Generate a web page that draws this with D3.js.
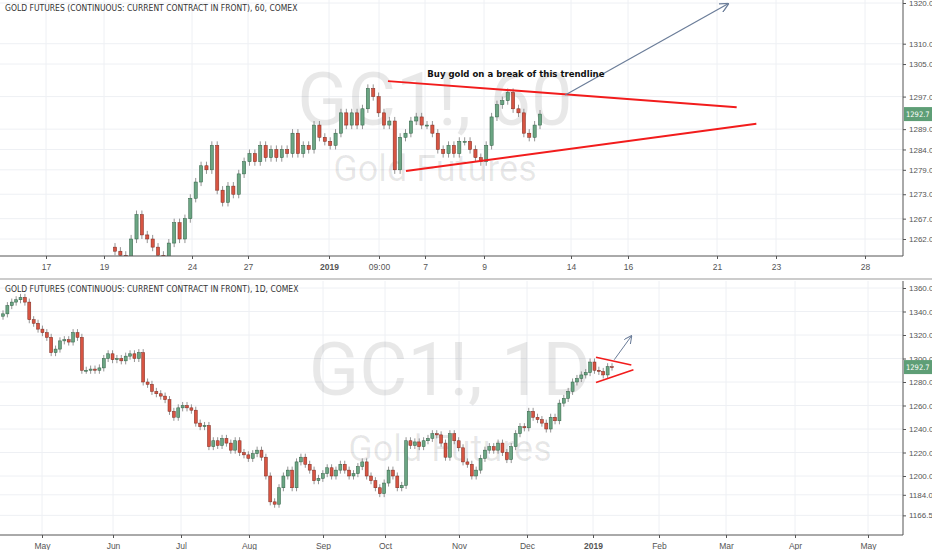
<!DOCTYPE html>
<html><head><meta charset="utf-8">
<script src="https://cdn.jsdelivr.net/npm/d3@7"></script>
<style>body{margin:0;background:#fff}svg{display:block;font-family:"Liberation Sans Narrow","DejaVu Sans Condensed",Arial,sans-serif}</style>
</head><body><svg id="c" width="932" height="550"></svg>
<script>
// ---------- data ----------
const topCloses=[1259,1258,1257,1262,1268,1263,1262,1260,1258,1257,1261,1266,1262,1267,1272,1276,1280,1279,1285,1274,1271,1275,1273,1278,1281,1283,1281,1285,1282,1284,1282,1284,1283,1288,1283,1285,1284,1290,1287,1286,1285,1288,1293,1290,1293,1290,1294,1299,1297,1293,1290,1291,1279,1287,1288,1291,1292,1290,1290,1288,1284,1283,1285,1283,1286,1286,1284,1282,1281,1285,1292,1295,1296,1298,1294,1293,1288,1287,1290,1292.7];
const topOpen0=1260;
const botCloses=[1338,1345,1348,1350,1352,1348,1333,1330,1325,1322,1318,1305,1308,1315,1316,1314,1322,1318,1290,1290,1291,1290,1292,1300,1304,1299,1300,1298,1302,1304,1300,1305,1280,1278,1272,1270,1268,1265,1255,1250,1258,1260,1258,1256,1245,1242,1243,1225,1230,1226,1232,1228,1222,1230,1220,1218,1215,1219,1222,1216,1200,1178,1176,1190,1200,1205,1190,1212,1216,1210,1205,1196,1198,1202,1207,1200,1205,1210,1205,1200,1202,1208,1212,1200,1196,1190,1185,1194,1205,1200,1190,1192,1230,1226,1229,1225,1230,1232,1236,1235,1228,1216,1236,1230,1224,1212,1210,1200,1205,1215,1222,1225,1222,1228,1220,1214,1225,1236,1242,1241,1255,1250,1248,1245,1240,1250,1247,1262,1266,1272,1280,1283,1286,1288,1297,1290,1289,1286,1293,1292.7];
const botOpen0=1336;
const topTicks=[1320,1310,1305,1297,1289,1284,1279,1273,1267,1262];
const botTicks=[1360,1340,1320,1300,1280,1260,1240,1220,1200,1184,1166.5];
const topXLabels=["17","19","24","27","2019","09:00","7","9","14","16","21","23","28"];
const topXDates=["2018-12-17","2018-12-19","2018-12-24","2018-12-27","2019-01-01","2019-01-03T09:00","2019-01-07","2019-01-09","2019-01-14","2019-01-16","2019-01-21","2019-01-23","2019-01-28"];
const botXLabels=["May","Jun","Jul","Aug","Sep","Oct","Nov","Dec","2019","Feb","Mar","Apr","May"];
const botXDates=["2018-05-01","2018-06-01","2018-07-01","2018-08-01","2018-09-01","2018-10-01","2018-11-01","2018-12-01","2019-01-01","2019-02-01","2019-03-01","2019-04-01","2019-05-01"];
const lastPrice=1292.7;
const title="GOLD FUTURES (CONTINUOUS: CURRENT CONTRACT IN FRONT)";

// ---------- helpers ----------
const svg=d3.select("#c");
const UP="#6ba583",DN="#d75442";
function panel(o){
  const g=svg.append("g");
  const y=d3.scaleLinear().domain(o.ydom).range([o.y0,o.y1]);
  const xt=d3.scaleTime().domain(o.xDates.map(d=>new Date(d))).range(o.xPix);
  const xi=d3.scaleLinear().domain([0,o.closes.length-1]).range(o.candleRange);
  const cp="clip"+o.id;
  svg.append("clipPath").attr("id",cp).append("rect").attr("x",0).attr("y",o.top).attr("width",o.right).attr("height",o.bottom-o.top);
  g.selectAll(".vg").data(o.xDates).join("line").attr("x1",d=>xt(new Date(d))).attr("x2",d=>xt(new Date(d)))
    .attr("y1",o.top).attr("y2",o.bottom).attr("stroke","#eef0f4");
  g.selectAll(".hg").data(o.ticks).join("line").attr("x1",0).attr("x2",o.right).attr("y1",d=>y(d)).attr("y2",d=>y(d)).attr("stroke","#eef0f4");
  g.append("text").attr("x",o.wmx).attr("y",o.wmy).attr("text-anchor","middle").attr("font-size",74).attr("fill","#000").attr("fill-opacity",0.09).attr("font-family","Roboto,Arial").text(o.wm);
  g.append("text").attr("x",o.wmx).attr("y",o.wmy+o.wm2).attr("text-anchor","middle").attr("font-size",36).attr("fill","#000").attr("fill-opacity",0.09).attr("font-family","Roboto,Arial").text("Gold Futures");
  const data=o.closes.map((c,i)=>{const op=i?o.closes[i-1]:o.open0;return{i,o:op,c,h:Math.max(op,c)+o.wick,l:Math.min(op,c)-o.wick};});
  const cg=g.append("g").attr("clip-path",`url(#${cp})`);
  cg.selectAll(".w").data(data).join("line").attr("x1",d=>xi(d.i)).attr("x2",d=>xi(d.i)).attr("y1",d=>y(d.h)).attr("y2",d=>y(d.l)).attr("stroke","#7a7a7a").attr("stroke-width",0.8);
  cg.selectAll(".b").data(data).join("rect").attr("x",d=>xi(d.i)-o.bw/2).attr("width",o.bw)
    .attr("y",d=>y(Math.max(d.o,d.c))).attr("height",d=>Math.max(1,Math.abs(y(d.o)-y(d.c))))
    .attr("fill",d=>d.c>=d.o?UP:DN).attr("stroke",d=>d.c>=d.o?"#2f5f43":"#7a2a20").attr("stroke-width",0.5);
  o.annot(g,xt,y);
  g.append("line").attr("x1",o.right).attr("x2",o.right).attr("y1",o.top).attr("y2",o.bottom).attr("stroke","#555");
  g.append("line").attr("x1",0).attr("x2",o.right).attr("y1",o.bottom).attr("y2",o.bottom).attr("stroke","#555");
  const ya=d3.axisRight(y).tickValues(o.ticks).tickFormat(d3.format(".1f")).tickSize(3);
  const ay=g.append("g").attr("transform",`translate(${o.right},0)`).call(ya);
  ay.select(".domain").remove();
  ay.selectAll("text").attr("font-size",8).attr("fill","#555");ay.selectAll("line").attr("stroke","#555");
  const xa=d3.axisBottom(xt).tickValues(o.xDates.map(d=>new Date(d))).tickFormat((d,i)=>o.xLabels[i]).tickSize(3);
  const ax=g.append("g").attr("transform",`translate(0,${o.bottom})`).call(xa);
  ax.select(".domain").remove();
  ax.selectAll("text").attr("font-size",8.5).attr("fill","#555").attr("dy","0.9em").attr("font-weight",(d,i)=>o.xLabels[i]==="2019"?"bold":"normal");
  ax.selectAll("line").attr("stroke","#555");
  g.append("rect").attr("x",o.right+1).attr("y",y(lastPrice)-7).attr("width",29).attr("height",14).attr("fill","#5e9e76");
  g.append("text").attr("x",o.right+3).attr("y",y(lastPrice)+3).attr("font-size",7.5).attr("fill","#fff").text(d3.format(".1f")(lastPrice));
  g.append("text").attr("x",5).attr("y",o.top+11).attr("font-size",8.5).attr("fill","#333").text(title+o.tsuf);
}
const arrowDefs=svg.append("defs");
arrowDefs.append("marker").attr("id","ah").attr("viewBox","0 0 10 10").attr("refX",9).attr("refY",5).attr("markerWidth",8).attr("markerHeight",8).attr("orient","auto")
  .append("path").attr("d","M0,0 L10,5 L0,10").attr("fill","none").attr("stroke","#6b7d99").attr("stroke-width",1.3);
function seg(g,x,y,a,b,col,w,arrow){const l=g.append("line").attr("x1",x(new Date(a[0]))).attr("y1",y(a[1])).attr("x2",x(new Date(b[0]))).attr("y2",y(b[1])).attr("stroke",col).attr("stroke-width",w);if(arrow)l.attr("marker-end","url(#ah)");}

panel({id:"t",top:0,bottom:256,right:903,y0:3,y1:239,ydom:[1320,1262],ticks:topTicks,
  xDates:topXDates,xLabels:topXLabels,xPix:[46,104,192,248,329,379,425,484,571,628,717,776,865],
  closes:topCloses,open0:topOpen0,candleRange:[115,540],bw:3.2,wick:1.0,wm:"GC1!, 60",wmx:435,wmy:125,wm2:56,tsuf:", 60, COMEX",
  annot:(g,x,y)=>{
    seg(g,x,y,["2019-01-04T02:00",1300.8],["2019-01-21T16:00",1294.4],"#f21c1c",2);
    seg(g,x,y,["2019-01-05T12:00",1278.7],["2019-01-22T08:00",1290.3],"#f21c1c",2);
    seg(g,x,y,["2019-01-13T16:00",1297.4],["2019-01-21T09:00",1319.8],"#6b7d99",1.2,true);
    g.append("text").attr("x",x(new Date("2019-01-10T20:00"))).attr("y",y(1301.8)).attr("text-anchor","middle").attr("font-size",9.5).attr("font-weight","bold").attr("fill","#111").attr("font-family","'DejaVu Sans Condensed',sans-serif").text("Buy gold on a break of this trendline");
  }});
svg.append("line").attr("x1",0).attr("x2",932).attr("y1",279).attr("y2",279).attr("stroke","#ccc").attr("stroke-width",2);
panel({id:"b",top:281,bottom:535,right:903,y0:288,y1:476,ydom:[1360,1200],ticks:botTicks,
  xDates:botXDates,xLabels:botXLabels,xPix:[42,113,181,249,323,385,459,527,593,659,726,795,868],
  closes:botCloses,open0:botOpen0,candleRange:[3,612],bw:3,wick:3,wm:"GC1!, 1D",wmx:450,wmy:395,wm2:66,tsuf:", 1D, COMEX",
  annot:(g,x,y)=>{
    seg(g,x,y,["2019-01-02T10:00",1301],["2019-01-19",1294.5],"#f21c1c",1.6);
    seg(g,x,y,["2019-01-02T10:00",1279.5],["2019-01-20",1290.5],"#f21c1c",1.6);
    seg(g,x,y,["2019-01-11",1299],["2019-01-19",1319],"#6b7d99",1,true);
  }});
</script></body></html>
